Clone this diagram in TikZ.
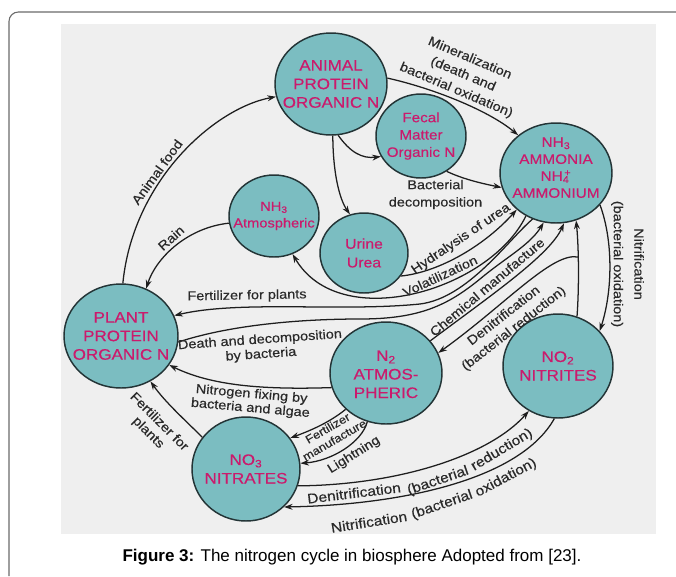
\documentclass[tikz,border=0pt]{standalone}
\usepackage{fontspec}
\setmainfont{Liberation Sans}
\newfontfamily\lab[FakeStretch=1.12,FakeBold=0.35]{Liberation Sans}
\usetikzlibrary{shapes.geometric,arrows.meta}
\definecolor{bgc}{HTML}{EFEFEF}
\definecolor{cfill}{HTML}{7BBDC1}
\definecolor{ctext}{HTML}{CB1A6C}
\definecolor{cline}{HTML}{1E1E1E}
\definecolor{cedge}{HTML}{233436}
\definecolor{cframe}{HTML}{6A6A6A}
\definecolor{clab}{HTML}{2A2A2A}
\newcommand\labfont{\lab\fontsize{9.7}{13}\selectfont}
\newcommand\botfont{\lab\fontsize{10.4}{12.4}\selectfont}
\tikzset{
 pool/.style={ellipse, draw=cedge, line width=1.1pt, fill=cfill, inner sep=0pt},
 ptext/.style={text=ctext, align=center, inner sep=0pt, font=\lab\fontsize{11.4}{13.9}\selectfont},
 stext/.style={text=ctext, align=center, inner sep=0pt, font=\lab\fontsize{10.2}{13}\selectfont},
 arr/.style={draw=cline, line width=0.95pt, -{Stealth[length=6.5pt,width=4.4pt]}},
 lbl/.style={text=clab, inner sep=0pt, align=center, font=\labfont},
 blbl/.style={text=clab, inner sep=0pt, font=\botfont},
}
\begin{document}
\begin{tikzpicture}[x=0.75pt,y=-0.75pt]
\path[use as bounding box] (0,0) rectangle (676,576);
\fill[white] (0,0) rectangle (676,576);
\draw[cframe, line width=0.8pt, rounded corners=7pt] (9,576) -- (9,12) -- (676,12);
\fill[bgc] (61,24) rectangle (656,534);

% pools
\node[pool, minimum width=84pt, minimum height=76.5pt,
  label={[ptext]center:{ANIMAL\\PROTEIN\\ORGANIC N}}] (animal) at (331,84) {};
\node[pool, minimum width=67.5pt, minimum height=63pt,
  label={[stext]center:{Fecal\\Matter\\Organic N}}] (fecal) at (421,136) {};
\node[pool, minimum width=84pt, minimum height=75pt,
  label={[stext, yshift=4pt, font=\lab\fontsize{10.3}{12.7}\selectfont]center:{NH\textsubscript{3}\\AMMONIA\\NH\rlap{\textsubscript{4}}\textsuperscript{\,+}\\AMMONIUM}}] (ammonia) at (556,173) {};
\node[pool, minimum width=67.5pt, minimum height=61.5pt,
  label={[stext, font=\lab\fontsize{9.8}{12.5}\selectfont]center:{NH\textsubscript{3}\\Atmospheric}}] (atm) at (274,216) {};
\node[pool, minimum width=66pt, minimum height=60pt,
  label={[stext, font=\lab\fontsize{10.6}{14}\selectfont]center:{Urine\\Urea}}] (urine) at (364,253) {};
\node[pool, minimum width=85.5pt, minimum height=78pt,
  label={[ptext]center:{PLANT\\PROTEIN\\ORGANIC N}}] (plant) at (121,336) {};
\node[pool, minimum width=84pt, minimum height=76.5pt,
  label={[ptext, yshift=-1pt]center:{N\textsubscript{2}\\ATMOS-\\PHERIC}}] (n2) at (386,373) {};
\node[pool, minimum width=82.5pt, minimum height=78pt,
  label={[ptext]center:{NO\textsubscript{2}\\NITRITES}}] (no2) at (558,366) {};
\node[pool, minimum width=81pt, minimum height=78pt,
  label={[ptext]center:{NO\textsubscript{3}\\NITRATES}}] (no3) at (246,469) {};

% connectors
\draw[arr] (plant.88) .. controls (133,180) and (215,108) .. (animal.193);
\draw[arr] (atm.189) .. controls (185,228) and (155,260) .. (plant.62);
\draw[arr] (animal.-82) .. controls (350,152) and (362,159) .. (fecal.207);
\draw[arr] (animal.-88) .. controls (333,175) and (340,200) .. (urine.110);
\draw[arr] (animal.6) .. controls (432,88) and (488,110) .. (ammonia.135);
\draw[arr] (fecal.-54) .. controls (465,180) and (485,184) .. (ammonia.195);
\draw[arr] (urine.-32) .. controls (440,272) and (485,245) .. (ammonia.223);
\draw[arr] (ammonia.235) .. controls (490,290) and (340,335) .. (atm.-64);
\draw[arr] (ammonia.243) .. controls (508,240) and (468,298) .. (420,304) .. controls (340,312) and (240,300) .. (plant.21);
\draw[arr] (plant.-6) .. controls (230,325) and (300,319) .. (360,319) .. controls (420,319) and (448,305) .. (480,279) .. controls (505,258) and (530,245) .. (ammonia.256);
\draw[arr] (n2.36) .. controls (490,296) and (550,255) .. (ammonia.279);
\draw[arr] (no2.69) .. controls (579,290) and (579,250) .. (ammonia.293);
\coordinate (br) at (578,257);
\draw[arr] (br) .. controls (552,252) and (505,305) .. (n2.21);
\draw[arr] (ammonia.-36) .. controls (613,240) and (613,290) .. (no2.40);
\draw[arr] (n2.195) .. controls (260,390) and (210,385) .. (plant.-31);
\draw[arr] (no3.144) .. controls (185,420) and (165,402) .. (plant.-57);
\draw[arr] (n2.222) .. controls (330,422) and (312,430) .. (no3.35);
\draw[arr] (n2.249) .. controls (362,442) and (332,461) .. (no3.6);
\draw[arr] (no3.-18) .. controls (400,485) and (490,455) .. (no2.237);
\draw[arr] (no2.266) .. controls (520,480) and (400,505) .. (no3.-45);

% labels
\node[lbl, rotate=54] (lAf) at (157,172) {Animal food};
\node[lbl, rotate=42] (lRa) at (171,238) {Rain};
\node[lbl, rotate=-23] (lMi) at (463,74.5) {Mineralization\\(death and\\bacterial oxidation)};
\node[lbl] (lBd) at (435.5,194.5) {Bacterial\\decomposition};
\node[lbl, rotate=34] (lHy) at (461,239) {Hydralysis of urea};
\node[lbl, rotate=25] (lVo) at (440,276) {Volatilization};
\node[lbl, rotate=1] (lFp) at (247,296) {Fertilizer for plants};
\node[lbl, rotate=4, font=\lab\fontsize{9.7}{11}\selectfont] (lDd) at (260.5,347.5) {Death and decomposition\\by bacteria};
\node[lbl, rotate=40] (lCm) at (487,287) {Chemical manufacture};
\node[lbl, rotate=38, font=\lab\fontsize{9.7}{12.2}\selectfont] (lDn) at (509,322.5) {Denitrification\\(bacterial reduction)};
\node[lbl, rotate=-90, font=\lab\fontsize{9.7}{15.5}\selectfont] (lNi) at (627.5,264) {Nitrification\\(bacterial oxidation)};
\node[lbl, rotate=-5, font=\lab\fontsize{9.7}{10.6}\selectfont] (lNf) at (251,401.5) {Nitrogen fixing by\\bacteria and algae};
\node[lbl, rotate=-45, font=\lab\fontsize{9.7}{11.5}\selectfont] (lFq) at (153.5,427.5) {Fertilizer for\\plants};
\node[lbl, rotate=30, font=\lab\fontsize{8.6}{10.2}\selectfont] (lFm) at (331,434) {Fertilizer\\manufacture};
\node[lbl, rotate=32] (lLi) at (354,455) {Lightning};
\node[blbl, rotate=7] (lDb1) at (354,493) {Denitrification};
\node[blbl, rotate=19] (lDb2) at (438,481) {(bacterial};
\node[blbl, rotate=31] (lDb3) at (502,450) {reduction)};
\node[blbl, rotate=9] (lNb1) at (369,522) {Nitrification};
\node[blbl, rotate=19] (lNb2) at (442,505) {(bacterial};
\node[blbl, rotate=28] (lNb3) at (506,478) {oxidation)};

% caption
\node[font=\fontsize{12.75}{15}\selectfont] (cap) at (352,557)
  {\textbf{Figure 3:} The nitrogen cycle in biosphere Adopted from [23].};
\end{tikzpicture}
\end{document}
